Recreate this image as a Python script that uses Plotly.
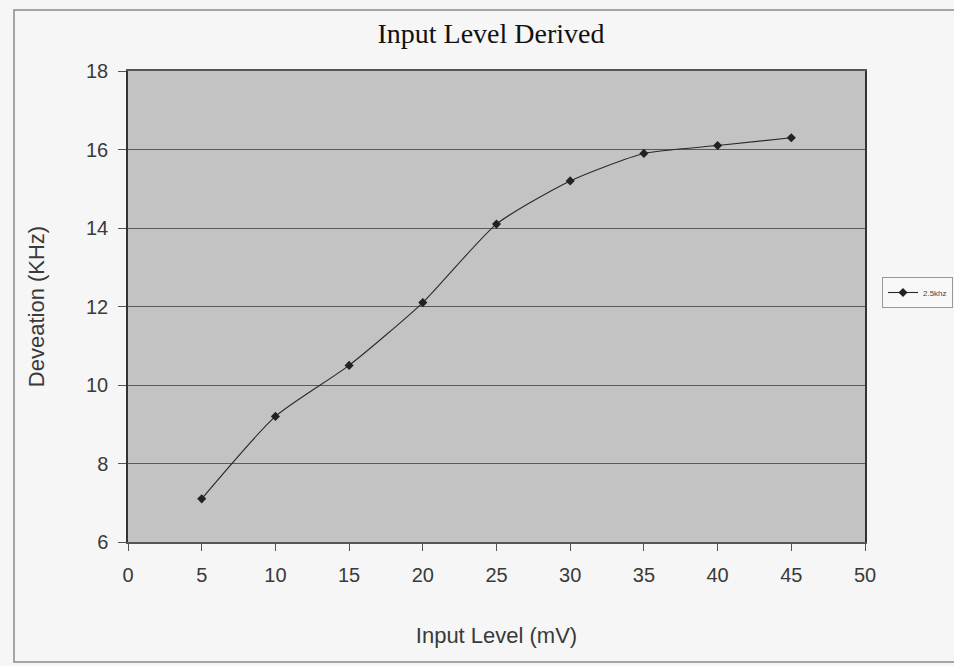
import plotly.graph_objects as go

input_level_mv = [5, 10, 15, 20, 25, 30, 35, 40, 45]
deviation_khz = [7.1, 9.2, 10.5, 12.1, 14.1, 15.2, 15.9, 16.1, 16.3]
series_name = "2.5khz"
x_ticks = [0, 5, 10, 15, 20, 25, 30, 35, 40, 45, 50]
y_ticks = [6, 8, 10, 12, 14, 16, 18]

W, H = 954, 666
L, R, T, B = 128, 865, 71, 542

def px(x):
    return (x - L) / (R - L)

def py(y):
    return (B - y) / (B - T)

fig = go.Figure()
fig.add_trace(go.Scatter(
    x=input_level_mv, y=deviation_khz, name=series_name,
    mode="lines+markers",
    line=dict(color="#2a2a2a", width=1.1, shape="spline", smoothing=0.6),
    marker=dict(symbol="diamond", size=7, color="#222222"),
    showlegend=True,
))

sans = "Liberation Sans, Arial, sans-serif"
axis_font = dict(family=sans, size=20, color="#3a3a3a")
title_font = dict(family=sans, size=22, color="#3a3a3a")

fig.update_layout(
    width=W, height=H,
    margin=dict(l=L, r=W - R, t=T, b=H - B, autoexpand=False),
    paper_bgcolor="#f6f6f6",
    plot_bgcolor="#c3c3c3",
    title=dict(text="Input Level Derived", x=px(491), xref="paper", xanchor="center",
               y=1 - 33 / H, yanchor="middle",
               font=dict(family="Liberation Serif, Times New Roman, serif", size=28, color="#111111")),
    xaxis=dict(range=[0, 50], tickvals=x_ticks, ticks="outside", ticklen=7, tickcolor="#555555",
               ticklabelstandoff=7,
               showgrid=False, zeroline=False, showline=True, linecolor="#555555", linewidth=1.5,
               mirror=True, tickfont=axis_font,
               title=dict(text="Input Level (mV)", font=title_font, standoff=43)),
    yaxis=dict(range=[6, 18], tickvals=y_ticks, ticks="outside", ticklen=8, tickcolor="#555555",
               ticklabelstandoff=6,
               showgrid=True, gridcolor="#5a5a5a", gridwidth=1, zeroline=False,
               showline=True, linecolor="#333333", linewidth=1.5, mirror=True, tickfont=axis_font,
               title=dict(text="Deveation (KHz)", font=title_font, standoff=35)),
    legend=dict(x=px(882), y=py(277), xanchor="left", yanchor="top",
                bgcolor="#f8f8f8", bordercolor="#999999", borderwidth=1,
                font=dict(family=sans, size=8, color="#444444"),
                itemwidth=30, tracegroupgap=0),
    shapes=[dict(type="rect", xref="paper", yref="paper",
                 x0=px(14), x1=px(1010), y0=py(662), y1=py(10),
                 line=dict(color="#8a8a8a", width=1.5), layer="below")],
)

fig.write_html("out.html")
